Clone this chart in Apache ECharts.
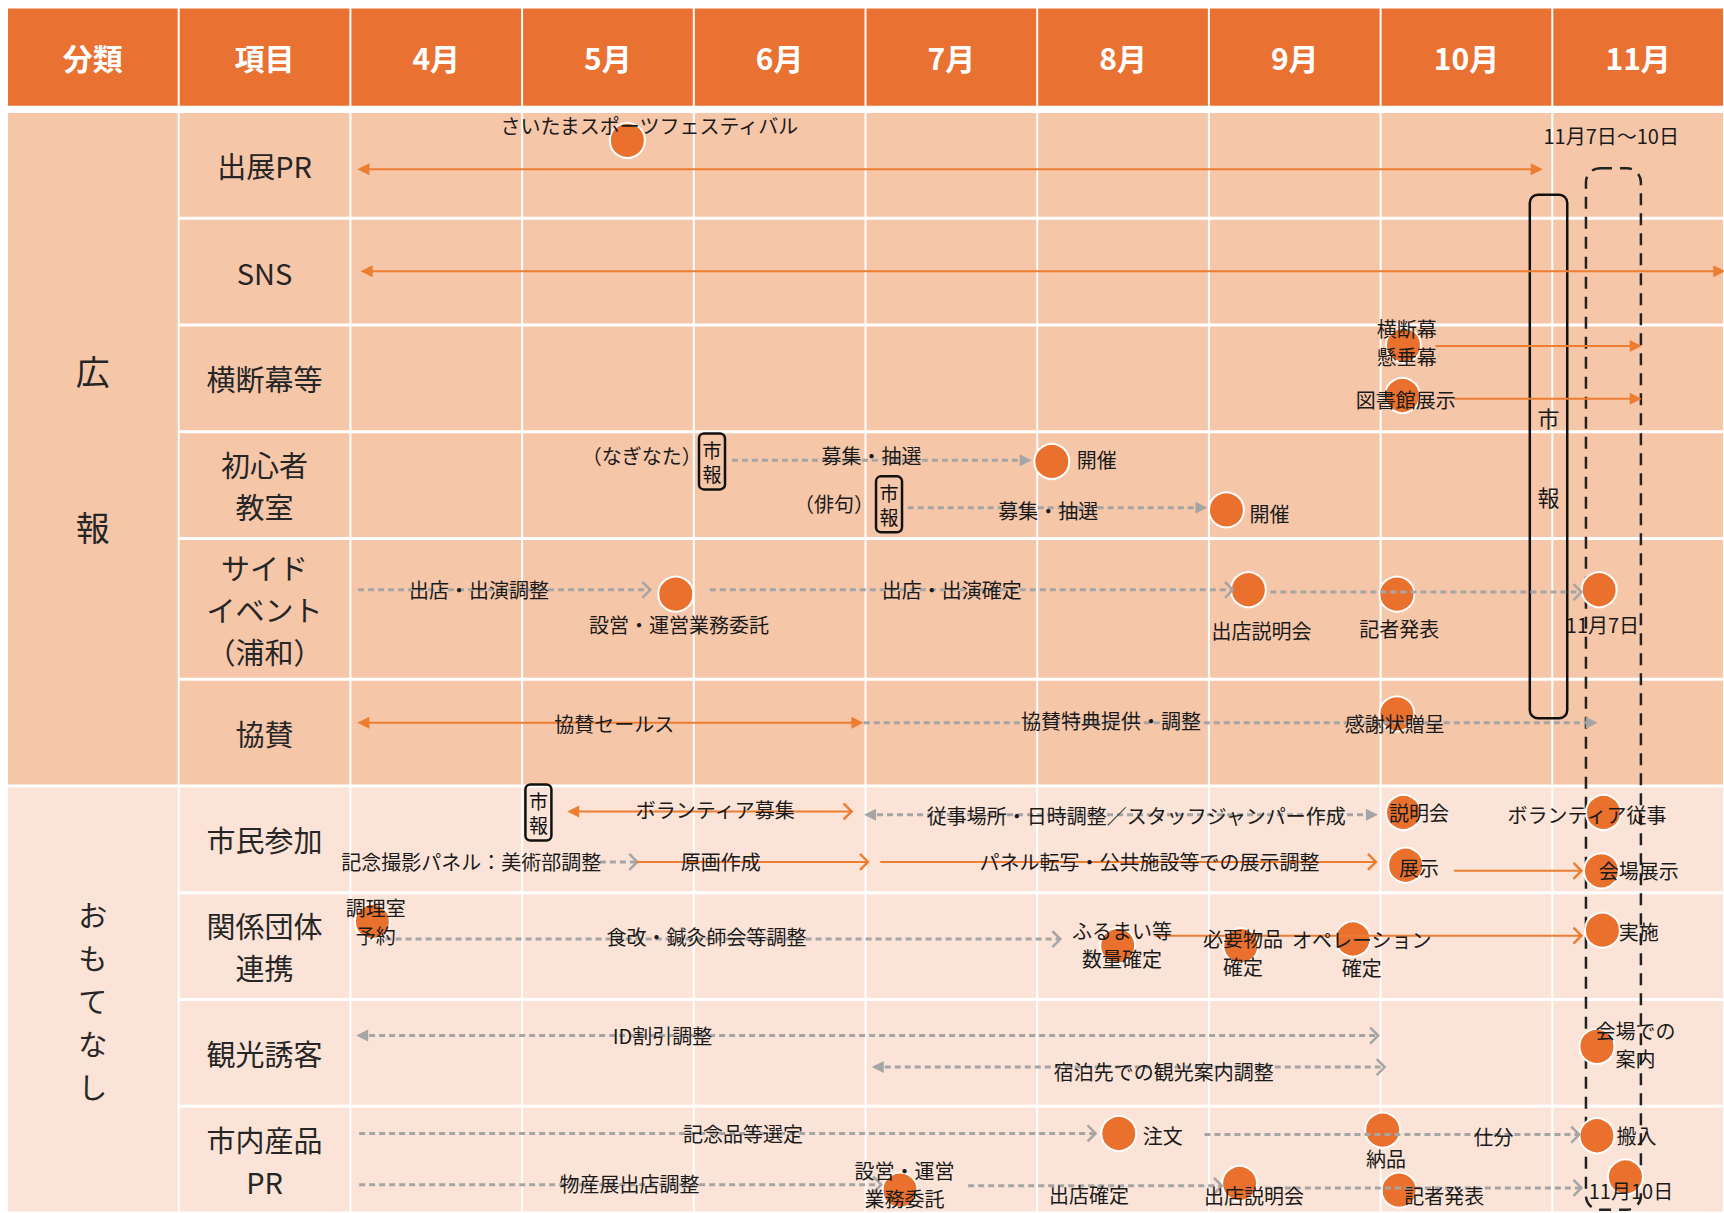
<!DOCTYPE html>
<html>
<head>
<meta charset="utf-8">
<script src="https://cdn.jsdelivr.net/npm/echarts@6/dist/echarts.min.js"></script>
<style>
html, body { margin: 0; padding: 0; background: #fff; }
#chart { width: 1724px; height: 1213px; }
</style>
</head>
<body>
<div id="chart"></div>
<script>
// 見出し
const headLabels = ['分類', '項目', '4月', '5月', '6月', '7月', '8月', '9月', '10月', '11月'];
// 項目(行)
const rowNames = ['出展PR', 'SNS', '横断幕等', '初心者\n教室', 'サイド\nイベント\n（浦和）', '協賛',
    '市民参加', '関係団体\n連携', '観光誘客', '市内産品\nPR'];
// 分類: [名前, 最初の行, 最後の行]
const groups = [['広\n報', 0, 5], ['お\nも\nて\nな\nし', 6, 9]];

// 矢印: [行, 行内の位置, 開始(月), 終了(月), 種類(色/始点/終点)]
const arrows = [
    [0, 0.54, 4.058, 10.927, 'ott'],
    [1, 0.495, 4.077, 11.99, 'ott'],
    [2, 0.196, 10.319, 11.503, 'ont'],
    [2, 0.69, 10.428, 11.503, 'ont'],
    [3, 0.268, 6.222, 7.95, 'gnt'],
    [3, 0.711, 7.246, 8.974, 'gnt'],
    [4, 0.364, 4.045, 5.741, 'gnv'],
    [4, 0.364, 6.093, 9.134, 'gnv'],
    [4, 0.38, 9.358, 11.164, 'gnv'],
    [5, 0.406, 4.058, 6.97, 'ott'],
    [5, 0.406, 6.99, 11.247, 'gnt'],
    [6, 0.237, 5.28, 6.913, 'otv'],
    [6, 0.268, 7.009, 9.967, 'gtt'],
    [6, 0.711, 5.453, 5.665, 'gnv'],
    [6, 0.711, 5.665, 7.009, 'onv'],
    [6, 0.711, 7.086, 9.967, 'onv'],
    [6, 0.794, 10.428, 11.164, 'onv'],
    [7, 0.433, 4.205, 8.129, 'gnv'],
    [7, 0.402, 8.686, 11.164, 'onv'],
    [8, 0.337, 4.051, 9.98, 'gtv'],
    [8, 0.633, 7.054, 10.018, 'gtv'],
    [9, 0.255, 4.051, 8.334, 'gnv'],
    [9, 0.265, 8.974, 11.151, 'gnv'],
    [9, 0.735, 4.051, 7.086, 'gnv'],
    [9, 0.745, 7.598, 9.07, 'gnv'],
    [9, 0.765, 9.326, 11.164, 'gnv']
];

// 丸印(節目): [行, 行内の位置, 月]
const dots = [
    [0, 0.27, 5.613],
    [2, 0.19, 10.133], [2, 0.66, 10.127],
    [3, 0.278, 8.085], [3, 0.732, 9.102],
    [4, 0.395, 5.895], [4, 0.364, 9.23], [4, 0.395, 10.095], [4, 0.364, 11.273],
    [5, 0.323, 10.095],
    [6, 0.247, 10.133], [6, 0.247, 11.298], [6, 0.742, 10.146], [6, 0.794, 11.286],
    [7, 0.268, 4.128], [7, 0.495, 8.469], [7, 0.495, 9.186], [7, 0.433, 9.839], [7, 0.35, 11.292],
    [8, 0.439, 11.26],
    [9, 0.255, 8.475], [9, 0.224, 10.012], [9, 0.276, 11.26],
    [9, 0.786, 7.201], [9, 0.724, 9.179], [9, 0.786, 10.108], [9, 0.663, 11.426]
];

// 文字: [行, 行内の位置, 月, 文字, 揃え]
const notes = [
    [0, 0.135, 5.741, 'さいたまスポーツフェスティバル'],
    [0, 0.22, 11.343, '11月7日～10日'],
    [2, 0.165, 10.152, '横断幕\n懸垂幕'],
    [2, 0.70, 10.146, '図書館展示'],
    [3, 0.227, 5.697, '（なぎなた）'],
    [3, 0.227, 7.035, '募集・抽選'],
    [3, 0.258, 8.23, '開催', 'left'],
    [3, 0.67, 6.817, '（俳句）'],
    [3, 0.742, 8.065, '募集・抽選'],
    [3, 0.763, 9.237, '開催', 'left'],
    [4, 0.364, 4.749, '出店・出演調整'],
    [4, 0.612, 5.914, '設営・運営業務委託'],
    [4, 0.364, 7.502, '出店・出演確定'],
    [4, 0.651, 9.307, '出店説明会'],
    [4, 0.636, 10.108, '記者発表'],
    [4, 0.612, 11.292, '11月7日'],
    [5, 0.417, 5.536, '協賛セールス'],
    [5, 0.385, 8.43, '協賛特典提供・調整'],
    [5, 0.417, 10.082, '感謝状贈呈'],
    [6, 0.216, 6.125, 'ボランティア募集'],
    [6, 0.278, 8.577, '従事場所・日時調整／スタッフジャンパー作成'],
    [6, 0.247, 10.223, '説明会'],
    [6, 0.268, 11.202, 'ボランティア従事'],
    [6, 0.711, 4.704, '記念撮影パネル：美術部調整'],
    [6, 0.711, 6.157, '原画作成'],
    [6, 0.711, 8.654, 'パネル転写・公共施設等での展示調整'],
    [6, 0.763, 10.223, '展示'],
    [6, 0.794, 11.503, '会場展示'],
    [7, 0.273, 4.147, '調理室\n予約'],
    [7, 0.412, 6.074, '食改・鍼灸師会等調整'],
    [7, 0.485, 8.494, 'ふるまい等\n数量確定'],
    [7, 0.557, 9.198, '必要物品\n確定'],
    [7, 0.567, 9.89, 'オペレーション\n確定'],
    [7, 0.36, 11.503, '実施'],
    [8, 0.337, 5.818, 'ID割引調整'],
    [8, 0.673, 8.737, '宿泊先での観光案内調整'],
    [8, 0.418, 11.484, '会場での\n案内'],
    [9, 0.255, 6.286, '記念品等選定'],
    [9, 0.276, 8.731, '注文'],
    [9, 0.49, 10.031, '納品'],
    [9, 0.286, 10.658, '仕分'],
    [9, 0.276, 11.49, '搬入'],
    [9, 0.724, 5.626, '物産展出店調整'],
    [9, 0.735, 7.227, '設営・運営\n業務委託'],
    [9, 0.827, 8.302, '出店確定'],
    [9, 0.837, 9.262, '出店説明会'],
    [9, 0.837, 10.37, '記者発表'],
    [9, 0.786, 11.458, '11月10日']
];

// 市報マーク: [行, 行内の位置, 月]
const shihoTags = [[3, 0.278, 6.106], [3, 0.68, 7.137], [6, 0.247, 5.095]];
// 市報掲載期間と開催期間の枠: [開始(月), 終了(月), 上の行, 位置, 下の行, 位置, 文字]
const frames = [
    [10.869, 11.087, 0, 0.78, 5, 0.365, '市\n報'],
    [11.196, 11.516, 0, 0.53, 9, 0.969, '']
];

// ---- レイアウト ----
const FONT = '"Noto Sans CJK JP", sans-serif';
const HEAD_H = 0.94;
const GAP = 0.04;
const rowSpan = [1, 1, 1, 1, 1.32, 1, 1, 1, 1, 1];
const rowTop = [];
let acc = HEAD_H + GAP;
rowSpan.forEach(h => { rowTop.push(acc); acc += h; });
const Y_MAX = acc;
const yOf = (r, f) => rowTop[r] + f * rowSpan[r];

const ORANGE = '#ED7D31';
const GRAY = '#A5A5A5';
const bodyFill = ['#F6C6A9', '#FBE4D7'];

// 表のセル
const cells = [];
headLabels.forEach((t, i) => {
    cells.push({ x1: 2 + i, x2: 3 + i, y1: 0, y2: HEAD_H, fill: '#E97132', text: t,
        style: { fill: '#fff', fontSize: 30, fontWeight: 'bold', fontFamily: FONT } });
});
groups.forEach((g, gi) => {
    cells.push({ x1: 2, x2: 3, y1: rowTop[g[1]], y2: rowTop[g[2]] + rowSpan[g[2]], fill: bodyFill[gi], text: g[0],
        style: { fill: '#262626', fontSize: gi === 0 ? 34 : 29, fontFamily: FONT, lineHeight: gi === 0 ? 156 : 43 } });
    for (let r = g[1]; r <= g[2]; r++) {
        for (let c = 3; c < 12; c++) {
            cells.push({ x1: c, x2: c + 1, y1: rowTop[r], y2: rowTop[r] + rowSpan[r], fill: bodyFill[gi],
                text: c === 3 ? rowNames[r] : '',
                style: { fill: '#262626', fontSize: 29, fontFamily: FONT, lineHeight: 42 } });
        }
    }
});

function renderCell(params, api) {
    const c = cells[params.dataIndex];
    const p1 = api.coord([c.x1, c.y1]);
    const p2 = api.coord([c.x2, c.y2]);
    const children = [{
        type: 'rect',
        shape: { x: p1[0] + 1, y: p1[1] + 1.5, width: p2[0] - p1[0] - 2, height: p2[1] - p1[1] - 3 },
        style: { fill: c.fill }
    }];
    if (c.text) {
        children.push({
            type: 'text', x: (p1[0] + p2[0]) / 2, y: (p1[1] + p2[1]) / 2,
            style: Object.assign({ text: c.text, align: 'center', verticalAlign: 'middle' }, c.style)
        });
    }
    return { type: 'group', children: children };
}

// 矢印の先
function arrowHead(list, x, y, dir, type, color) {
    if (type === 't') {
        list.push({ type: 'polygon', shape: { points: [[x + dir * 3, y], [x - dir * 9, y - 6], [x - dir * 9, y + 6]] },
            style: { fill: color } });
    } else if (type === 'v') {
        list.push({ type: 'polyline', shape: { points: [[x - dir * 7, y - 8], [x + dir * 1, y], [x - dir * 7, y + 8]] },
            style: { stroke: color, lineWidth: 2.5, fill: null } });
    }
}

const arrowList = arrows.map(a => ({ x1: a[2], x2: a[3], y: yOf(a[0], a[1]), kind: a[4] }));
function renderArrow(params, api) {
    const a = arrowList[params.dataIndex];
    const p1 = api.coord([a.x1, a.y]);
    const p2 = api.coord([a.x2, a.y]);
    const orange = a.kind[0] === 'o';
    const color = orange ? ORANGE : GRAY;
    const children = [{
        type: 'line',
        shape: { x1: p1[0], y1: p1[1], x2: p2[0], y2: p2[1] },
        style: orange ? { stroke: color, lineWidth: 2 } : { stroke: color, lineWidth: 3, lineDash: [6, 4] }
    }];
    arrowHead(children, p1[0], p1[1], -1, a.kind[1], color);
    arrowHead(children, p2[0], p2[1], 1, a.kind[2], color);
    return { type: 'group', children: children };
}

const noteList = notes.map(n => ({ x: n[2], y: yOf(n[0], n[1]), text: n[3], align: n[4] || 'center' }));
function renderNote(params, api) {
    const n = noteList[params.dataIndex];
    const p = api.coord([n.x, n.y]);
    return {
        type: 'text', x: p[0], y: p[1],
        style: { text: n.text, fill: '#1a1a1a', fontSize: 20, fontFamily: FONT, lineHeight: 28,
            align: n.align, verticalAlign: 'middle' }
    };
}

const tagList = shihoTags.map(t => ({ x: t[2], y: yOf(t[0], t[1]) }));
function renderTag(params, api) {
    const t = tagList[params.dataIndex];
    const p = api.coord([t.x, t.y]);
    return {
        type: 'group', children: [
            { type: 'rect', shape: { x: p[0] - 13, y: p[1] - 28, width: 26, height: 56, r: 5 },
              style: { fill: null, stroke: '#111', lineWidth: 2.5 } },
            { type: 'text', x: p[0], y: p[1],
              style: { text: '市\n報', fill: '#111', fontSize: 19, fontFamily: FONT, lineHeight: 24,
                  align: 'center', verticalAlign: 'middle' } }
        ]
    };
}

const frameList = frames.map(f => ({ x1: f[0], x2: f[1], y1: yOf(f[2], f[3]), y2: yOf(f[4], f[5]), text: f[6] }));
function renderFrame(params, api) {
    const f = frameList[params.dataIndex];
    const p1 = api.coord([f.x1, f.y1]);
    const p2 = api.coord([f.x2, f.y2]);
    const dashed = !f.text;
    const children = [{
        type: 'rect',
        shape: { x: p1[0], y: p1[1], width: p2[0] - p1[0], height: p2[1] - p1[1], r: dashed ? 14 : 8 },
        style: dashed ? { fill: null, stroke: '#222', lineWidth: 2.5, lineDash: [12, 8] }
                      : { fill: null, stroke: '#111', lineWidth: 2.5 }
    }];
    if (f.text) {
        children.push({ type: 'text', x: (p1[0] + p2[0]) / 2, y: (p1[1] + p2[1]) / 2,
            style: { text: f.text, fill: '#1a1a1a', fontSize: 22, fontFamily: FONT, lineHeight: 79,
                align: 'center', verticalAlign: 'middle' } });
    }
    return { type: 'group', children: children };
}

const dom = document.getElementById('chart');
const myChart = echarts.init(dom, null, { renderer: 'svg' });

const option = {
    animation: false,
    backgroundColor: '#fff',
    grid: { left: 7, right: 0, top: 7, bottom: 0 },
    xAxis: { type: 'value', min: 2, max: 12, show: false },
    yAxis: { type: 'value', min: 0, max: Y_MAX, inverse: true, show: false },
    series: [
        { type: 'custom', z: 1, renderItem: renderCell, data: cells.map(c => [c.x1, c.y1, c.x2, c.y2]) },
        { type: 'custom', z: 2, renderItem: renderFrame, data: frameList.map(f => [f.x1, f.y1, f.x2, f.y2]) },
        {
            type: 'scatter', z: 3, symbol: 'circle', symbolSize: 35,
            itemStyle: { color: '#E9712D', borderColor: '#fff', borderWidth: 2, opacity: 1 },
            data: dots.map(d => [d[2], yOf(d[0], d[1])])
        },
        { type: 'custom', z: 4, renderItem: renderArrow, data: arrowList.map(a => [a.x1, a.y, a.x2]) },
        { type: 'custom', z: 5, renderItem: renderTag, data: tagList.map(t => [t.x, t.y]) },
        { type: 'custom', z: 6, renderItem: renderNote, data: noteList.map(n => [n.x, n.y]) }
    ]
};

myChart.setOption(option);

window.addEventListener('resize', function () {
    myChart.resize();
});
</script>
</body>
</html>
